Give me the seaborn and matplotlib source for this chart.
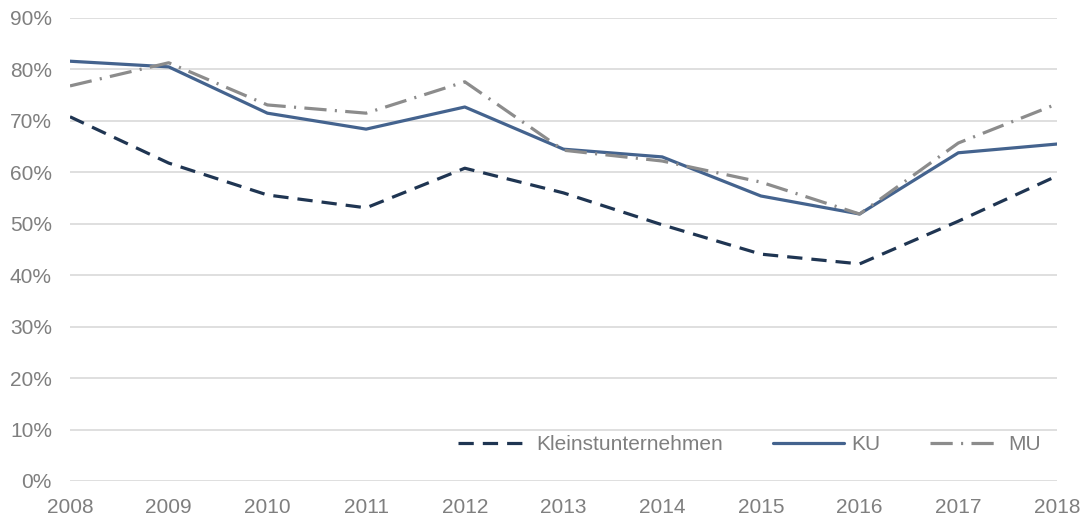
import matplotlib
matplotlib.use("Agg")
import matplotlib.pyplot as plt
import seaborn as sns
import pandas as pd
from matplotlib.ticker import PercentFormatter, MultipleLocator

years = [2008, 2009, 2010, 2011, 2012, 2013, 2014, 2015, 2016, 2017, 2018]
kleinst = [70.8, 61.8, 55.6, 53.1, 60.8, 56.0, 49.8, 44.1, 42.2, 50.5, 59.3]
ku = [81.6, 80.5, 71.5, 68.4, 72.7, 64.5, 63.0, 55.4, 51.9, 63.8, 65.5]
mu = [76.8, 81.3, 73.1, 71.5, 77.6, 64.3, 62.2, 58.1, 51.9, 65.7, 73.3]
series_names = ["Kleinstunternehmen", "KU", "MU"]

sns.set_theme(style="white")
plt.rcParams['font.family'] = ['Liberation Sans', 'DejaVu Sans']
plt.rcParams['lines.scale_dashes'] = False

df = pd.DataFrame({"Jahr": years * 3,
                   "Wert": kleinst + ku + mu,
                   "Serie": [series_names[0]] * len(years) + [series_names[1]] * len(years) + [series_names[2]] * len(years)})

fig = plt.figure(figsize=(10.87, 5.18), dpi=100)
ax = fig.add_axes([70 / 1087, 1 - 481 / 518, (1057 - 70) / 1087, (481 - 18) / 518])

palette = {"Kleinstunternehmen": "#1F3552", "KU": "#44638E", "MU": "#8C8C8C"}
dashes = {"Kleinstunternehmen": (11.0, 6.5), "KU": "", "MU": (16.0, 6.0, 1.5, 6.0)}
sns.lineplot(data=df, x="Jahr", y="Wert", hue="Serie", style="Serie",
             palette=palette, dashes=dashes, linewidth=2.3, ax=ax,
             hue_order=series_names, style_order=series_names)

ax.set_xlim(2008, 2018)
ax.set_ylim(0, 90)
ax.yaxis.set_major_locator(MultipleLocator(10))
ax.yaxis.set_major_formatter(PercentFormatter(decimals=0))
ax.set_xticks(years)
ax.set_xticklabels([str(y) for y in years])
ax.grid(axis='y', color='#D9D9D9', linewidth=1.2)
ax.set_axisbelow(True)
for s in ax.spines.values():
    s.set_visible(False)
ax.set_xlabel("")
ax.set_ylabel("")
ax.tick_params(axis='both', colors='#7F7F7F', labelsize=15, length=0)
ax.tick_params(axis='y', pad=13)
ax.tick_params(axis='x', pad=12)

leg = ax.legend(loc='center right', bbox_to_anchor=(0.984, 0.078), ncol=3, frameon=False,
                fontsize=15, handlelength=3.4, columnspacing=2.4, handletextpad=0.35,
                labelcolor='#7F7F7F', borderpad=0, borderaxespad=0)

fig.savefig("out.png", dpi=100)
